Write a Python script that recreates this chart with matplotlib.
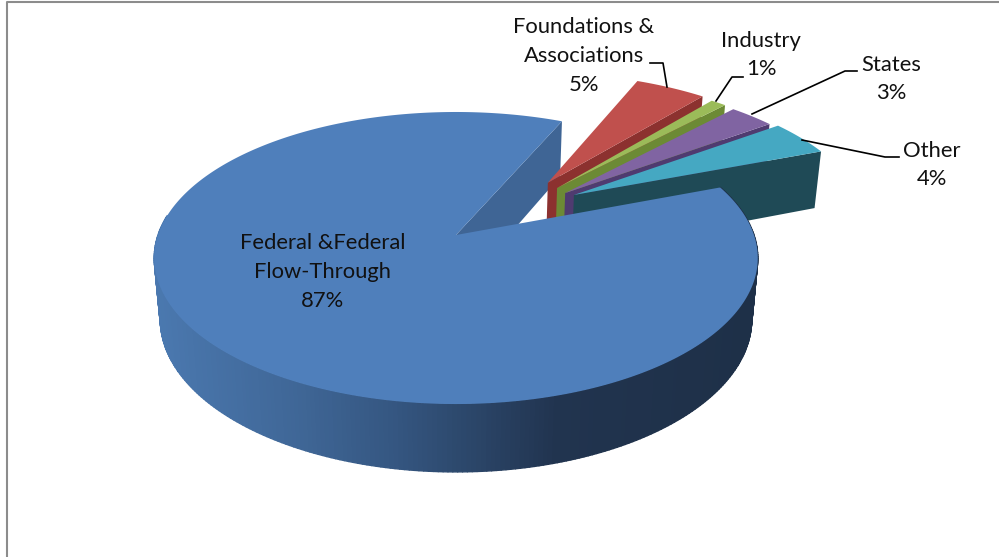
import numpy as np
import matplotlib
matplotlib.use('Agg')
import matplotlib.pyplot as plt
from matplotlib.collections import PolyCollection
from matplotlib.colors import LinearSegmentedColormap

# Data
categories = ['Federal &Federal\nFlow-Through', 'Foundations &\nAssociations', 'Industry', 'States', 'Other']
shares = [87.4, 4.6, 1.0, 2.9, 4.1]

# Styles
top_colors = ['#4F7FBB', '#C0504D', '#9BBB59', '#8064A2', '#45A8C2']
side_colors = ['#3F6595', '#8C312F', '#6C8A35', '#4F3B70', '#1F4A56']
explode_r = [0.0, 0.509, 0.499, 0.493, 0.508]
explode_ang = [0.0, 50.0, 44.2, 38.8, 35.4]
start_angle = 66.0

# Projection of the tilted disc onto the picture, z=0 top, z=1 bottom
cx, cy = 456.0, 235.0
sx, sy, k, depth, shrink = 298.0, 142.4, 0.1576, 61.9, 0.02

def project(X, Y, z=0.0):
    w = 1 + k * Y + shrink * z
    return cx + sx * X / w, cy - (sy * Y - depth * z) / w

def arc(a0, a1, ox, oy, z=0.0, n=120):
    t = np.radians(np.linspace(a0, a1, n))
    return project(ox + np.cos(t), oy + np.sin(t), z)

fig = plt.figure(figsize=(9.99, 5.57), dpi=100)
ax = fig.add_axes([0, 0, 1, 1])
ax.set_xlim(0, 999)
ax.set_ylim(557, 0)
ax.axis('off')

# Frame of the picture (left and top only)
ax.plot([7, 7, 999], [557, 1.5, 1.5], color='#8C8C8C', lw=1.5, zorder=1)

# Small slices run clockwise from the start angle
cur = start_angle
small_a = []
for s in shares[1:]:
    small_a.append((cur, cur - s / 100.0 * 360.0))
    cur = small_a[-1][1]
main_end = cur + 360.0

# Notch wall of the main slice
t = np.radians(start_angle)
x0, y0 = project(0.0, 0.0)
x1, y1 = project(np.cos(t), np.sin(t))
x2, y2 = project(np.cos(t), np.sin(t), 1)
x3, y3 = project(0.0, 0.0, 1)
ax.fill([x0, x1, x2, x3], [y0, y1, y2, y3], color=side_colors[0], lw=0, zorder=2)

# Exploded slices, each with the radial wall at its clockwise end
for i, (b0, b1) in enumerate(small_a):
    d = np.radians(explode_ang[i + 1])
    ox, oy = explode_r[i + 1] * np.cos(d), explode_r[i + 1] * np.sin(d)
    t = np.radians(b1)
    px, py = ox + np.cos(t), oy + np.sin(t)
    xa, ya = project(ox, oy)
    xb, yb = project(px, py)
    xc, yc = project(px, py, 1)
    xd, yd = project(ox, oy, 1)
    ax.fill([xa, xb, xc, xd], [ya, yb, yc, yd], color=side_colors[i + 1], lw=0, zorder=3 + i)
    xr, yr = arc(b0, b1, ox, oy)
    ax.fill(np.r_[xa, xr], np.r_[ya, yr], color=top_colors[i + 1], lw=0, zorder=3 + i)

# Outer wall of the main slice with a left to right gradient
wall_cmap = LinearSegmentedColormap.from_list(
    'wall', [(0.0, '#4B79B0'), (0.25, '#3F6696'), (0.42, '#34557F'), (0.68, '#21344F'), (1.0, '#1E3048')])
seg = np.linspace(172.0, main_end, 260)
polys = []
vals = []
for p, q in zip(seg[:-1], seg[1:]):
    tx, ty = arc(p, q, 0.0, 0.0, 0, 2)
    bx, by = arc(q, p, 0.0, 0.0, 1, 2)
    polys.append(np.c_[np.r_[tx, bx], np.r_[ty, by]])
    vals.append((tx.mean() - 150.0) / 600.0)
wall = PolyCollection(polys, array=np.clip(vals, 0, 1), cmap=wall_cmap, clim=(0, 1), zorder=10)
wall.set_edgecolor('face')
wall.set_linewidth(1.0)
ax.add_collection(wall)

# Top of the main slice
xr, yr = arc(start_angle, main_end, 0.0, 0.0, 0, 500)
ax.fill(np.r_[x0, xr], np.r_[y0, yr], color=top_colors[0], lw=0, zorder=11)

# Labels
pct = ['%.0f%%' % s for s in shares]
label_xy = [(323, 272), (584, 56), (761, 55), (891, 79), (932, 165)]
for name, p, (lx, ly) in zip(categories, pct, label_xy):
    ax.text(lx, ly, name + '\n' + p, ha='center', va='center', fontsize=15.8,
            family='Lato', color='#111111', linespacing=1.55, zorder=20)

# Leader lines
leaders = [
    ([650, 663, 667], [63, 63, 87]),
    ([743, 732, 716], [77, 77, 101]),
    ([857, 845, 752], [71, 71, 114]),
    ([899, 885, 802], [157, 157, 140]),
]
for lx, ly in leaders:
    ax.plot(lx, ly, color='black', lw=1.2, zorder=19)

fig.savefig('out.png', dpi=100)
